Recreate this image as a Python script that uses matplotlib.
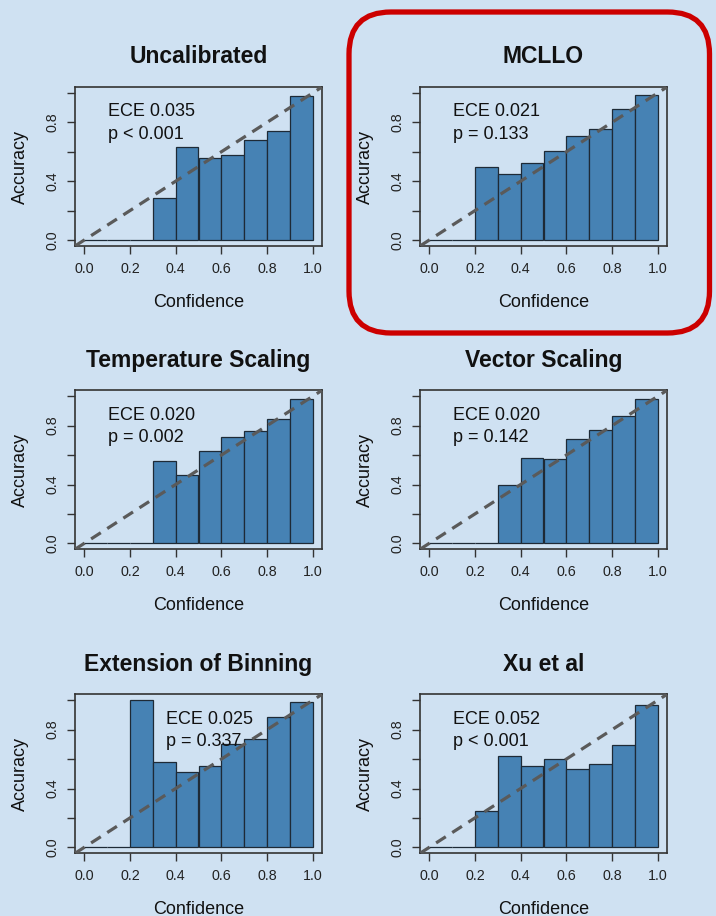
import matplotlib
matplotlib.use("Agg")
import matplotlib.pyplot as plt
from matplotlib.patches import FancyBboxPatch
import numpy as np

plt.rcParams['font.family'] = ['Liberation Sans', 'DejaVu Sans']

# ---------------- data ----------------
titles = ["Uncalibrated", "MCLLO", "Temperature Scaling",
          "Vector Scaling", "Extension of Binning", "Xu et al"]
bin_lefts = [0.0, 0.1, 0.2, 0.3, 0.4, 0.5, 0.6, 0.7, 0.8, 0.9]
acc_uncalibrated = [0, 0, 0, 0.287, 0.631, 0.556, 0.577, 0.682, 0.743, 0.976]
acc_mcllo        = [0, 0, 0.499, 0.449, 0.524, 0.606, 0.709, 0.752, 0.889, 0.985]
acc_temperature  = [0, 0, 0, 0.561, 0.465, 0.629, 0.725, 0.763, 0.845, 0.982]
acc_vector       = [0, 0, 0, 0.397, 0.581, 0.572, 0.706, 0.773, 0.868, 0.982]
acc_binning      = [0, 0, 1.0, 0.581, 0.512, 0.551, 0.700, 0.736, 0.887, 0.986]
acc_xu           = [0, 0, 0.249, 0.622, 0.553, 0.599, 0.533, 0.569, 0.697, 0.969]
ece_labels = ["ECE 0.035", "ECE 0.021", "ECE 0.020",
              "ECE 0.020", "ECE 0.025", "ECE 0.052"]
p_labels = ["p < 0.001", "p = 0.133", "p = 0.002",
            "p = 0.142", "p = 0.337", "p < 0.001"]
x_ticks = [0.0, 0.2, 0.4, 0.6, 0.8, 1.0]
x_ticklabels = ["0.0", "0.2", "0.4", "0.6", "0.8", "1.0"]
y_ticks = [0.0, 0.2, 0.4, 0.6, 0.8, 1.0]
y_ticklabels = ["0.0", "", "0.4", "", "0.8", ""]
all_acc = [acc_uncalibrated, acc_mcllo, acc_temperature,
           acc_vector, acc_binning, acc_xu]

# ---------------- style ----------------
BG = "#cfe1f2"
BAR = "#4682b4"
text_x = [0.105, 0.105, 0.105, 0.105, 0.36, 0.105]

W, H = 716, 916
fig = plt.figure(figsize=(W / 100, H / 100), dpi=100, facecolor=BG)

lefts_px = [75, 420]
bottoms_px = [246, 549.3, 853.3]
aw, ah = 247, 159

for i in range(6):
    r, c = divmod(i, 2)
    l = lefts_px[c] / W
    b = 1 - bottoms_px[r] / H
    ax = fig.add_axes([l, b, aw / W, ah / H])
    ax.set_facecolor(BG)
    ax.bar(bin_lefts, all_acc[i], width=0.1, align='edge', color=BAR,
           edgecolor="#1e2a36", linewidth=0.9, zorder=2)
    ax.axline((0, 0), slope=1, color="#5a5a5a", lw=2.3,
              linestyle=(0, (3.6, 2.4)), zorder=3)
    ax.set_xlim(-0.04, 1.04)
    ax.set_ylim(-0.04, 1.04)
    ax.set_xticks(x_ticks)
    ax.set_xticklabels(x_ticklabels)
    ax.set_yticks(y_ticks)
    ax.set_yticklabels(y_ticklabels, rotation=90, va='center')
    ax.tick_params(axis='both', direction='out', length=5.5, width=1.0,
                   color="#333333", labelsize=10.3, pad=6, labelcolor="#222222")
    for s in ax.spines.values():
        s.set_color("#333333")
        s.set_linewidth(1.2)
    ax.set_xlabel("Confidence", fontsize=13, color="#111111")
    ax.set_ylabel("Accuracy", fontsize=13, color="#111111")
    ax.xaxis.set_label_coords(0.5, -0.30)
    ax.yaxis.set_label_coords(-0.185, 0.5)
    ax.set_title(titles[i], fontsize=16.5, fontweight='bold', pad=17,
                 color="#111111")
    ax.text(text_x[i], 0.84, ece_labels[i], fontsize=13, ha='left',
            va='baseline', color="#111111", zorder=4)
    ax.text(text_x[i], 0.69, p_labels[i], fontsize=13, ha='left',
            va='baseline', color="#111111", zorder=4)

# red rounded highlight around MCLLO panel (pixel coordinates)
box = FancyBboxPatch((349, H - 333), 360.5, 321,
                     boxstyle="round,pad=0,rounding_size=42",
                     transform=None, facecolor='none', edgecolor="#cc0000",
                     linewidth=3.8, zorder=10)
fig.add_artist(box)

fig.savefig("out.png", dpi=100, facecolor=BG)
